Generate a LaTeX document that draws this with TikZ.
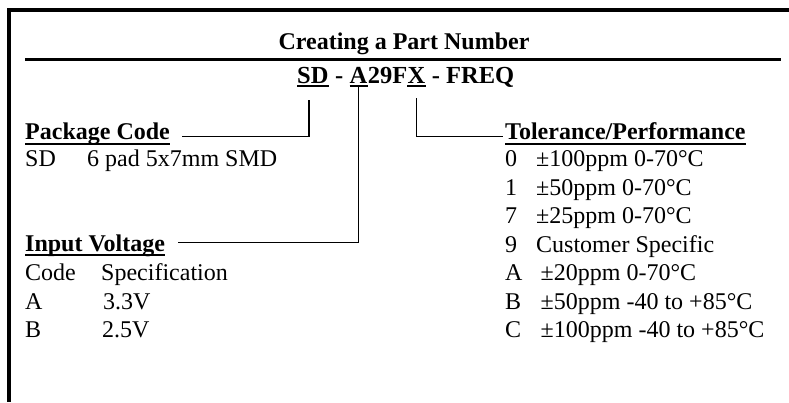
\documentclass[tikz,border=0pt]{standalone}
\usepackage{fontspec}
\setmainfont{Liberation Serif}
\usetikzlibrary{calc}
\begin{document}
\begin{tikzpicture}[x=1pt, y=-1pt,
    txt/.style={inner sep=0pt, anchor=base west, font=\fontsize{24}{28}\selectfont},
    head/.style={txt, font=\fontsize{24}{28}\selectfont\bfseries},
    pn/.style={txt, font=\fontsize{24.5}{28}\selectfont\bfseries},
    conn/.style={line width=1.6pt},
    uline/.style={line width=2pt},
    hline/.style={line width=2.5pt}]
    \useasboundingbox (0,0) rectangle (789,402);
    \draw[line width=3.6pt] (789,10) -- (8.8,10) -- (8.8,402);
    \node[head, anchor=base] (title) at (404,49) {Creating a Part Number};
    \draw[line width=3pt] (25,59.7) -- (781,59.7);
    % part number
    \node[pn] (sd) at (297,83) {SD};
    \node[pn] (dash1) at (sd.base east) {\ -\ \null};
    \node[pn] (a) at (dash1.base east) {A};
    \node[pn] (mid) at (a.base east) {29F};
    \node[pn] (x) at (mid.base east) {X};
    \node[pn] (freq) at (x.base east) {\ -\ FREQ};
    \draw[uline] ($(sd.base west)+(0,3)$) -- ($(sd.base east)+(0,3)$);
    \draw[uline] ($(a.base west)+(0,3)$) -- ($(a.base east)+(0,3)$);
    \draw[uline] ($(x.base west)+(0,3)$) -- ($(x.base east)+(0,3)$);
    % left column
    \node[head] (pkg) at (25,139.5) {Package Code};
    \draw[hline] ($(pkg.base west)+(0,4.5)$) -- ($(pkg.base east)+(0,4.5)$);
    \node[txt] (sdcode) at (25,166.5) {SD};
    \node[txt] (sddesc) at (87,166.5) {6 pad 5x7mm SMD};
    \node[head] (volt) at (25,251.5) {Input Voltage};
    \draw[hline] ($(volt.base west)+(0,3.5)$) -- ($(volt.base east)+(0,3.5)$);
    \node[txt] (vcode) at (25,280.5) {Code};
    \node[txt] (vspec) at (101,280.5) {Specification};
    \node[txt] (va) at (25,309) {A};
    \node[txt] (vadesc) at (103,309) {3.3V};
    \node[txt] (vb) at (25,337.5) {B};
    \node[txt] (vbdesc) at (102,337.5) {2.5V};
    % right column
    \node[head] (tol) at (505,139.5) {Tolerance/Performance};
    \draw[hline] ($(tol.base west)+(0,4.5)$) -- ($(tol.base east)+(0,4.5)$);
    \node[txt] (t0) at (505,166.5) {0};
    \node[txt] (t0desc) at (536,166.5) {±100ppm 0-70°C};
    \node[txt] (t1) at (505,195) {1};
    \node[txt] (t1desc) at (536,195) {±50ppm 0-70°C};
    \node[txt] (t7) at (505,223.5) {7};
    \node[txt] (t7desc) at (536,223.5) {±25ppm 0-70°C};
    \node[txt] (t9) at (505,252) {9};
    \node[txt] (t9desc) at (536,252) {Customer Specific};
    \node[txt] (tA) at (505,280.5) {A};
    \node[txt] (tAdesc) at (540.5,280.5) {±20ppm 0-70°C};
    \node[txt] (tB) at (505,309) {B};
    \node[txt] (tBdesc) at (540.5,309) {±50ppm -40 to +85°C};
    \node[txt] (tC) at (505,337.5) {C};
    \node[txt] (tCdesc) at (540.5,337.5) {±100ppm -40 to +85°C};
    % connectors
    \draw[conn] ($(sd.base)+(-4,17)$) |- ($(pkg.base east)+(11.5,-3)$);
    \draw[conn] ($(a.base)+(0,4)$) |- ($(volt.base east)+(13,-9)$);
    \draw[conn] ($(x.base)+(0,15)$) |- ($(tol.base west)+(-2,-3)$);
\end{tikzpicture}
\end{document}
